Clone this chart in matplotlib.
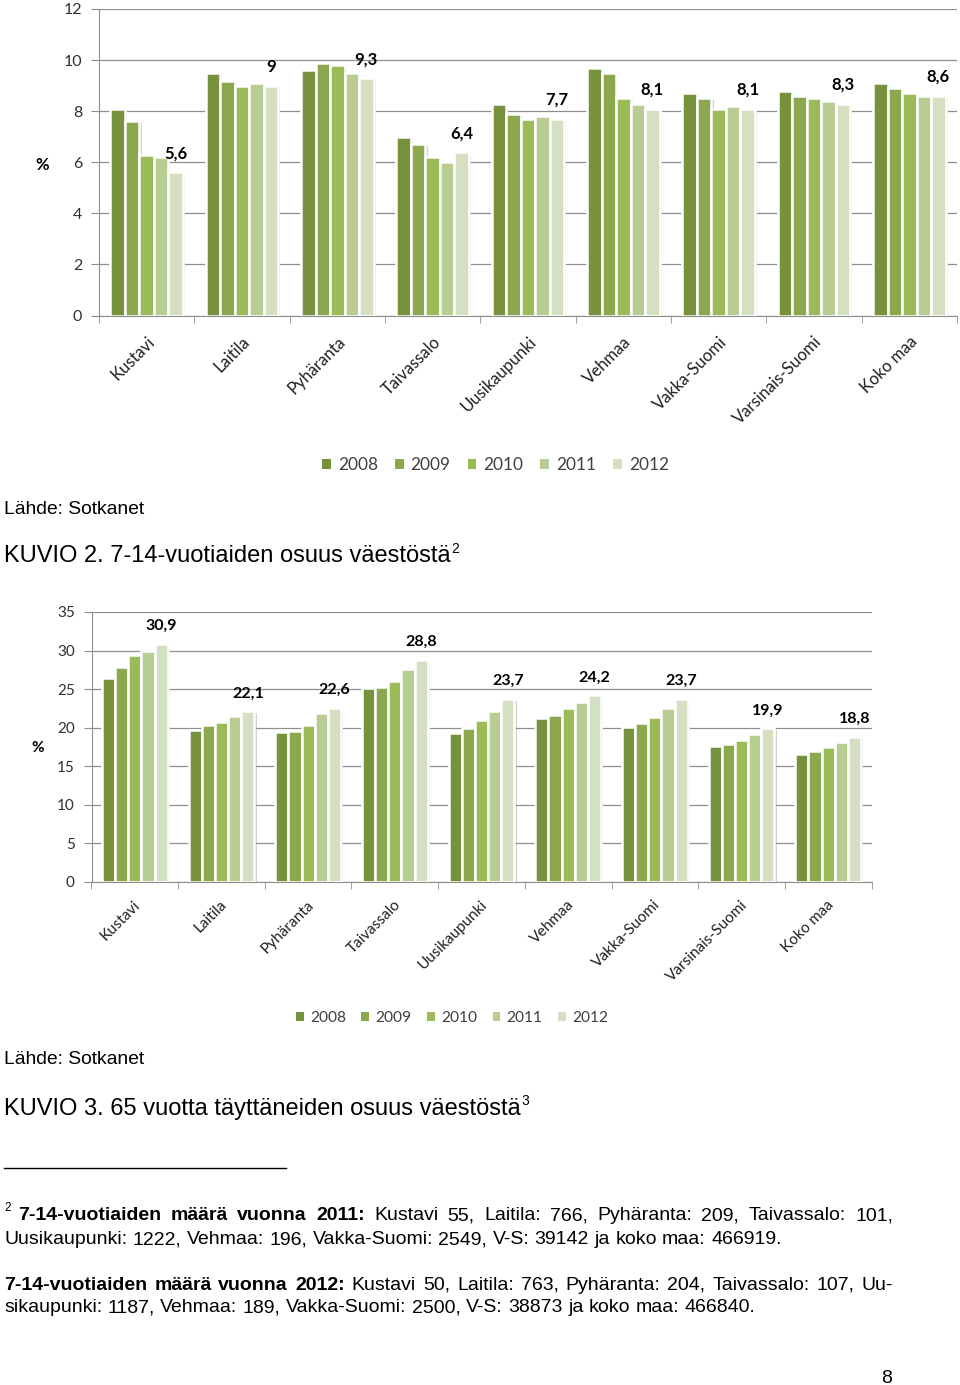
import matplotlib
matplotlib.use('Agg')
import matplotlib.pyplot as plt
import matplotlib.patches as mpatches
import matplotlib.patheffects as pe
import matplotlib.transforms as mtransforms
import numpy as np

plt.rcParams['font.family'] = ['Lato', 'DejaVu Sans']

kunnat = ['Kustavi', 'Laitila', 'Pyhäranta', 'Taivassalo', 'Uusikaupunki',
          'Vehmaa', 'Vakka-Suomi', 'Varsinais-Suomi', 'Koko maa']
vuodet = ['2008', '2009', '2010', '2011', '2012']
varit = ['#76923c', '#8ba84f', '#9bbb59', '#b8cd93', '#d5dfc2']

# KUVIO 2: 7-14-vuotiaiden osuus (%)
k2_2008 = [8.1, 9.5, 9.6, 7.0, 8.3, 9.7, 8.7, 8.8, 9.1]
k2_2009 = [7.6, 9.2, 9.9, 6.7, 7.9, 9.5, 8.5, 8.6, 8.9]
k2_2010 = [6.3, 9.0, 9.8, 6.2, 7.7, 8.5, 8.1, 8.5, 8.7]
k2_2011 = [6.2, 9.1, 9.5, 6.0, 7.8, 8.3, 8.2, 8.4, 8.6]
k2_2012 = [5.6, 9.0, 9.3, 6.4, 7.7, 8.1, 8.1, 8.3, 8.6]

# KUVIO 3: 65 vuotta täyttäneiden osuus (%)
k3_2008 = [26.4, 19.7, 19.4, 25.1, 19.3, 21.3, 20.1, 17.6, 16.6]
k3_2009 = [27.8, 20.3, 19.6, 25.3, 19.9, 21.6, 20.6, 17.9, 17.0]
k3_2010 = [29.4, 20.7, 20.3, 26.1, 21.0, 22.5, 21.4, 18.4, 17.5]
k3_2011 = [29.9, 21.5, 21.9, 27.6, 22.2, 23.3, 22.6, 19.2, 18.1]
k3_2012 = [30.9, 22.1, 22.6, 28.8, 23.7, 24.2, 23.7, 19.9, 18.8]

W, H = 960, 1385
fig = plt.figure(figsize=(W / 100, H / 100), dpi=100)
harmaa = '#8e8e8e'


def akselit(x0, x1, ytop, ybot):
    return fig.add_axes([x0 / W, 1 - ybot / H, (x1 - x0) / W, (ybot - ytop) / H])


def kaavio(ax, sarjat, ymax, ystep, fs_tick, fs_cat, fs_val, cat_off):
    x = np.arange(len(kunnat))
    w = 0.152
    for i, arvot in enumerate(sarjat):
        bars = ax.bar(x + (i - 2) * w, arvot, w, color=varit[i], edgecolor='white',
                      linewidth=1.8, zorder=3)
        for b in bars:
            b.set_path_effects([pe.SimplePatchShadow(offset=(1.5, -1.2), shadow_rgbFace='#9a9a9a',
                                                     alpha=0.45), pe.Normal()])
    for xi, v in zip(x, sarjat[-1]):
        ax.annotate(f'{v:g}'.replace('.', ','), (xi + 2 * w, v), xytext=(0, 10),
                    textcoords='offset points', ha='center', va='baseline',
                    fontsize=fs_val, fontweight='bold', color='black')
    for xi, nimi in zip(x, kunnat):
        ax.annotate(nimi, (xi, 0), xycoords=('data', 'axes fraction'), xytext=cat_off,
                    textcoords='offset points', rotation=45, rotation_mode='anchor',
                    ha='right', va='center', fontsize=fs_cat, color='#202020')
    ax.set_xlim(-0.5, len(kunnat) - 0.5)
    ax.set_ylim(0, ymax)
    ax.set_yticks(np.arange(0, ymax + 1, ystep))
    ax.set_xticks([])
    ax.set_xticks(np.arange(-0.5, len(kunnat)), minor=True)
    ax.tick_params(axis='x', which='minor', length=5, color=harmaa, direction='out')
    ax.tick_params(axis='y', length=6, color=harmaa, labelsize=fs_tick, labelcolor='#303030', pad=6)
    ax.yaxis.grid(True, color=harmaa, lw=0.9)
    ax.set_axisbelow(True)
    for s in ['top', 'right']:
        ax.spines[s].set_visible(False)
    for s in ['left', 'bottom']:
        ax.spines[s].set_color(harmaa)


ax1 = akselit(99, 957, 9, 315.5)
kaavio(ax1, [k2_2008, k2_2009, k2_2010, k2_2011, k2_2012], 12, 2, 11.5, 12, 12, (4, -17))
ax2 = akselit(91.5, 871.5, 612, 881.7)
kaavio(ax2, [k3_2008, k3_2009, k3_2010, k3_2011, k3_2012], 35, 5, 11, 11, 11.5, (2.5, -15))

fig.text(42 / W, 1 - 165 / H, '%', fontsize=12, fontweight='bold', ha='center', va='center')
fig.text(38 / W, 1 - 748 / H, '%', fontsize=11, fontweight='bold', ha='center', va='center')

kahvat = [mpatches.Patch(facecolor=c, edgecolor='none') for c in varit]
fig.legend(kahvat, vuodet, loc='center', bbox_to_anchor=(495.5 / W, 1 - 465 / H), ncol=5,
           frameon=False, fontsize=12.4, handlelength=0.5, handleheight=0.5,
           handletextpad=0.4, columnspacing=1.0, borderpad=0, labelcolor='#404040')
fig.legend(kahvat, vuodet, loc='center', bbox_to_anchor=(452 / W, 1 - 1018 / H), ncol=5,
           frameon=False, fontsize=11.2, handlelength=0.5, handleheight=0.5,
           handletextpad=0.4, columnspacing=1.0, borderpad=0, labelcolor='#404040')

# teksti pikseleinä
pix = mtransforms.IdentityTransform()
r = fig.canvas.get_renderer()
arial = 'Liberation Sans'


def teksti(x, y, s, fs, paino='normal'):
    return fig.text(x, H - y, s, fontsize=fs, fontweight=paino, family=arial,
                    va='baseline', ha='left', transform=pix)


def leveys(t):
    return t.get_window_extent(r).width


def rivi(osat, x0, y, fs, x1=None):
    sanat = [(s, p) for txt, p in osat for s in txt.split()]
    tt = [teksti(0, y, s, fs, p) for s, p in sanat]
    lev = [leveys(t) for t in tt]
    if x1 is None:
        vali = 0.278 * fs * 100 / 72
    else:
        vali = (x1 - x0 - sum(lev)) / (len(tt) - 1)
    x = x0
    for t, l in zip(tt, lev):
        t.set_x(x)
        x += l + vali


teksti(4, 513.5, 'Lähde: Sotkanet', 13.9)
t = teksti(4, 562, 'KUVIO 2. 7-14-vuotiaiden osuus väestöstä', 17)
teksti(4 + leveys(t) + 1, 553, '2', 10)
teksti(4, 1063.5, 'Lähde: Sotkanet', 13.9)
t = teksti(4, 1114.5, 'KUVIO 3. 65 vuotta täyttäneiden osuus väestöstä', 17)
teksti(4 + leveys(t) + 1, 1105, '3', 10)

fig.add_artist(plt.Line2D([4, 286], [H - 1168, H - 1168], color='black', lw=1, transform=pix))

fs = 14
teksti(4, 1211, '2', 8.5)
rivi([('7-14-vuotiaiden määrä vuonna 2011:', 'bold'),
      ('Kustavi 55, Laitila: 766, Pyhäranta: 209, Taivassalo: 101,', 'normal')], 18, 1220.5, fs, 893)
rivi([('Uusikaupunki: 1222, Vehmaa: 196, Vakka-Suomi: 2549, V-S: 39142 ja koko maa: 466919.', 'normal')],
     4, 1244.5, fs)
rivi([('7-14-vuotiaiden määrä vuonna 2012:', 'bold'),
      ('Kustavi 50, Laitila: 763, Pyhäranta: 204, Taivassalo: 107, Uu-', 'normal')], 4, 1289.5, fs, 893)
rivi([('sikaupunki: 1187, Vehmaa: 189, Vakka-Suomi: 2500, V-S: 38873 ja koko maa: 466840.', 'normal')],
     4, 1312.5, fs)
teksti(881, 1383, '8', 14)

fig.savefig('out.png', dpi=100)
